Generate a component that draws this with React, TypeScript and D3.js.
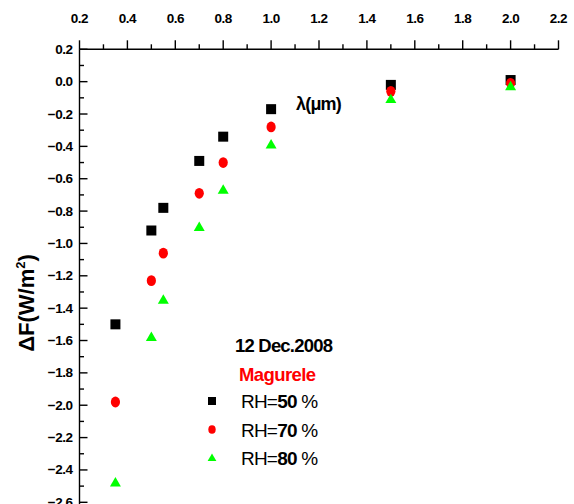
import React from "react";
import * as d3 from "d3";

// Wavelengths (µm) and radiative forcing change (W/m²) for three RH levels
const wavelengths = [0.35, 0.5, 0.55, 0.7, 0.8, 1.0, 1.5, 2.0];
const rh50 = [-1.5, -0.92, -0.78, -0.49, -0.34, -0.17, -0.02, 0.01];
const rh70 = [-1.98, -1.23, -1.06, -0.69, -0.5, -0.28, -0.06, -0.01];
const rh80 = [-2.48, -1.58, -1.35, -0.9, -0.67, -0.39, -0.11, -0.03];

const xMajorTicks = [0.2, 0.4, 0.6, 0.8, 1.0, 1.2, 1.4, 1.6, 1.8, 2.0, 2.2];
const yMajorTicks = [0.2, 0.0, -0.2, -0.4, -0.6, -0.8, -1.0, -1.2, -1.4, -1.6, -1.8, -2.0, -2.2, -2.4, -2.6];

const legendItems = [
  { label: "50", color: "#000000", shape: "square" },
  { label: "70", color: "#ff0000", shape: "circle" },
  { label: "80", color: "#00ff00", shape: "triangle" },
];

const W = 574;
const H = 504;
const FONT = "'Liberation Sans', Arial, sans-serif";

export default function App() {
  const x = d3.scaleLinear().domain([0.2, 2.2]).range([79.5, 558.5]);
  const y = d3.scaleLinear().domain([0.2, -2.6]).range([49.3, 502.3]);

  const xMinor = d3.range(0.3, 2.2, 0.2);
  const yMinor = d3.range(0.1, -2.7, -0.2);

  const marker = (shape: string, color: string, cx: number, cy: number, key: string, k = 1) => {
    if (shape === "square") {
      return <rect key={key} x={cx - 5 * k} y={cy - 5 * k} width={10 * k} height={10 * k} fill={color} />;
    }
    if (shape === "circle") {
      return <ellipse key={key} cx={cx} cy={cy} rx={4.6 * k} ry={5.4 * k} fill={color} />;
    }
    const tri = d3.symbol().type(d3.symbolTriangle).size(52 * k * k)();
    return <path key={key} d={tri as string} transform={`translate(${cx},${cy + 0.5})`} fill={color} />;
  };

  const series = [
    { values: rh50, color: "#000000", shape: "square" },
    { values: rh70, color: "#ff0000", shape: "circle" },
    { values: rh80, color: "#00ff00", shape: "triangle" },
  ];

  const fmt = d3.format(".1f");

  return (
    <svg width={W} height={H} style={{ position: "absolute", left: 0, top: 0, background: "#fff" }}>
      <rect width={W} height={H} fill="#fff" />
      {/* top axis */}
      <line x1={x(0.2)} x2={x(2.2)} y1={y(0.2)} y2={y(0.2)} stroke="#000" strokeWidth={1.4} />
      {xMajorTicks.map((t) => (
        <g key={`xt${t}`}>
          <line x1={x(t)} x2={x(t)} y1={y(0.2)} y2={y(0.2) - 9} stroke="#000" strokeWidth={1.4} />
          <text x={x(t)} y={23} textAnchor="middle" fontFamily={FONT} fontWeight="bold" fontSize={13.5} letterSpacing={-0.5}>
            {fmt(t)}
          </text>
        </g>
      ))}
      {xMinor.map((t) => (
        <line key={`xm${t}`} x1={x(t)} x2={x(t)} y1={y(0.2)} y2={y(0.2) - 5} stroke="#000" strokeWidth={1.4} />
      ))}
      {/* left axis */}
      <line x1={x(0.2)} x2={x(0.2)} y1={y(0.2)} y2={H} stroke="#000" strokeWidth={1.4} />
      {yMajorTicks.map((t) => (
        <g key={`yt${t}`}>
          <line x1={x(0.2)} x2={x(0.2) + 8} y1={y(t)} y2={y(t)} stroke="#000" strokeWidth={1.4} />
          <text x={72.5} y={y(t) + 4.5} textAnchor="end" fontFamily={FONT} fontWeight="bold" fontSize={13.5} letterSpacing={-0.5}>
            {fmt(Math.abs(t) < 1e-9 ? 0 : t)}
          </text>
        </g>
      ))}
      {yMinor.map((t) => (
        <line key={`ym${t}`} x1={x(0.2)} x2={x(0.2) + 4.5} y1={y(t)} y2={y(t)} stroke="#000" strokeWidth={1.4} />
      ))}
      {/* axis titles */}
      <text
        transform={`translate(34,303) rotate(-90)`}
        textAnchor="middle"
        fontFamily={FONT}
        fontWeight="bold"
        fontSize={22}
      >
        ΔF(W/m<tspan fontSize={13} dy={-9}>2</tspan>
        <tspan dy={9}>)</tspan>
      </text>
      <text x={296} y={110} fontFamily={FONT} fontWeight="bold" fontSize={18} letterSpacing={-0.8}>
        λ(μm)
      </text>
      {/* data */}
      {series.map((s, si) =>
        s.values.map((v, i) => marker(s.shape, s.color, x(wavelengths[i]), y(v), `p${si}-${i}`))
      )}
      {/* legend */}
      <text x={235} y={352} fontFamily={FONT} fontWeight="bold" fontSize={18.5} letterSpacing={-0.8}>
        12 Dec.2008
      </text>
      <text x={239} y={381} fontFamily={FONT} fontWeight="bold" fontSize={18.5} letterSpacing={-0.6} fill="#ff0000">
        Magurele
      </text>
      {legendItems.map((it, i) => {
        const cy = 401 + i * 28.5;
        return (
          <g key={`lg${i}`}>
            {marker(it.shape, it.color, 212, cy, `lm${i}`, 0.8)}
            <text x={241} y={cy + 7} fontFamily={FONT} fontSize={19} letterSpacing={-0.8}>
              RH=<tspan fontWeight="bold">{it.label}</tspan> %
            </text>
          </g>
        );
      })}
    </svg>
  );
}
